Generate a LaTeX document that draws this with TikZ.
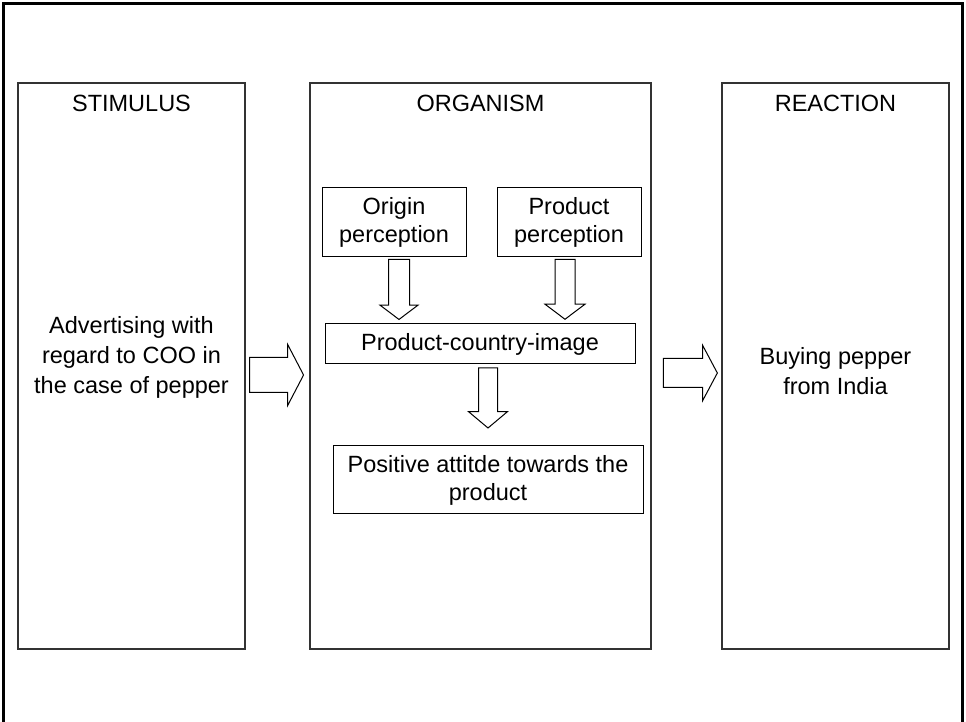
\documentclass[tikz,border=0pt]{standalone}
\usepackage{fontspec}
\setmainfont{Liberation Sans}
\usetikzlibrary{calc,positioning,shapes.arrows}
\tikzstyle{panel} = [rectangle, draw=black!80, line width=0.6pt, minimum width=113.5pt, minimum height=283pt]
\tikzstyle{block} = [rectangle, draw, line width=0.5pt, align=center, inner sep=0pt]
\tikzstyle{fat} = [single arrow, draw, line width=0.5pt, inner xsep=0pt, single arrow head indent=0pt]

\begin{document}
\begin{tikzpicture}[x=0.5pt, y=-0.5pt, font=\fontsize{11.75}{14}\selectfont]
  \useasboundingbox (0,0) rectangle (966,722);
  % frame, open at the bottom
  \draw[line width=1.4pt] (3.5,722) -- (3.5,3.5) -- (962.5,3.5) -- (962.5,722);

  % the three stages
  \node[panel] (S) at (131.5,366) {};
  \node[panel, minimum width=170.5pt] (O) at (480.5,366) {};
  \node[panel] (R) at (835.5,366) {};
  \node[anchor=base] (St) at ($(S.north)+(0,29)$) {STIMULUS};
  \node[anchor=base] (Ot) at ($(O.north)+(0,29)$) {ORGANISM};
  \node[anchor=base] (Rt) at ($(R.north)+(0,29)$) {REACTION};
  \node[align=center, font=\fontsize{11.75}{15}\selectfont] (Sb) at (131.5,357) {Advertising with\\regard to COO in\\the case of pepper};
  \node[align=center, font=\fontsize{11.75}{15}\selectfont] (Rb) at (835.5,371) {Buying pepper\\from India};

  % inside the organism
  \node[block, minimum width=72pt, minimum height=34.5pt] (OP) at (394,222.5) {Origin\\perception};
  \node[block, minimum width=72pt, minimum height=34.5pt, right=15pt of OP] (PP) {Product\\perception};
  \node[block, minimum width=155pt, minimum height=20pt] (PCI) at (480,344) {Product-country-image};
  \node[block, minimum width=155pt, minimum height=34pt, below=40.5pt of PCI, xshift=4pt] (PA) {Positive attitde towards the\\product};

  % block arrows
  \node[fat, rotate=-90, minimum height=30pt, inner ysep=5pt, single arrow head extend=4.25pt, single arrow tip angle=106] (a1) at ($(OP.south)!0.5!(OP.south |- PCI.north)+(5,-5)$) {};
  \node[fat, rotate=-90, minimum height=30pt, inner ysep=4.75pt, single arrow head extend=5pt, single arrow tip angle=106] (a2) at ($(PP.south)!0.5!(PP.south |- PCI.north)+(-4,-5)$) {};
  \node[fat, rotate=-90, minimum height=30pt, inner ysep=4.5pt, single arrow head extend=5pt, single arrow tip angle=100] (a3) at ($(PA.north)!0.5!(PA.north |- PCI.south)+(0,-11)$) {};
  \node[fat, minimum height=27pt, inner ysep=8.5pt, single arrow head extend=6.5pt, single arrow tip angle=125] (a4) at ($(S.east)!0.5!(O.west)+(-5.5,9)$) {};
  \node[fat, minimum height=27pt, inner ysep=7pt, single arrow head extend=6.5pt, single arrow tip angle=124] (a5) at ($(O.east)!0.5!(R.west)+(0,7)$) {};
\end{tikzpicture}
\end{document}
